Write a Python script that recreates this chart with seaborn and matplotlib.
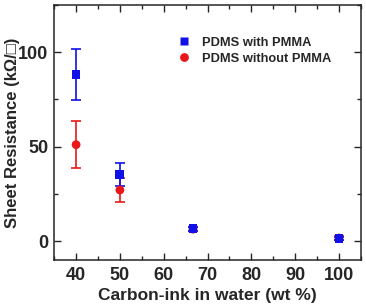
import matplotlib
matplotlib.use('Agg')
import matplotlib.pyplot as plt
import seaborn as sns
import pandas as pd
from matplotlib.ticker import MultipleLocator

# carbon-ink content (wt %) and sheet resistance (kOhm/sq)
ink_wt = [40, 50, 66.7, 100]
with_pmma = [88.0, 35.3, 6.5, 1.5]
with_pmma_err = [13.4, 6.2, 1.0, 0.8]
without_pmma = [51.0, 27.0, 6.3, 1.6]
without_pmma_err = [12.3, 6.5, 1.0, 0.8]

df = pd.DataFrame({
    'ink': ink_wt * 2,
    'R': with_pmma + without_pmma,
    'err': with_pmma_err + without_pmma_err,
    'sample': ['PDMS with PMMA'] * 4 + ['PDMS without PMMA'] * 4,
})

sns.set_style('ticks')
plt.rcParams['font.family'] = ['Liberation Sans', 'DejaVu Sans']
plt.rcParams['font.weight'] = 'bold'

fig = plt.figure(figsize=(3.66, 3.04), dpi=100)
ax = fig.add_axes([0.148, 0.145, 0.838, 0.839])

colors = {'PDMS with PMMA': '#1010e8', 'PDMS without PMMA': '#e81818'}
markers = {'PDMS with PMMA': 's', 'PDMS without PMMA': 'o'}

# error bars first, red under blue
for name in ['PDMS without PMMA', 'PDMS with PMMA']:
    sub = df[df['sample'] == name]
    ax.errorbar(sub['ink'], sub['R'], yerr=sub['err'], fmt='none',
                ecolor=colors[name], elinewidth=1.2, capsize=3.5, capthick=1.2, zorder=2)

sns.scatterplot(data=df.iloc[::-1], x='ink', y='R', hue='sample', style='sample',
                palette=colors, markers=markers, s=40, edgecolor='none',
                ax=ax, zorder=3, legend=True)

ax.set_xlim(35, 105)
ax.set_ylim(-10, 125)
ax.xaxis.set_major_locator(MultipleLocator(10))
ax.xaxis.set_minor_locator(MultipleLocator(5))
ax.yaxis.set_major_locator(MultipleLocator(50))
ax.yaxis.set_minor_locator(MultipleLocator(25))
ax.tick_params(which='both', direction='in', top=True, right=True, width=1)
ax.tick_params(which='major', length=5, labelsize=13)
ax.tick_params(axis='x', which='major', pad=5)
ax.tick_params(axis='y', which='major', pad=4)
ax.tick_params(which='minor', length=3)
for lab in ax.get_xticklabels() + ax.get_yticklabels():
    lab.set_fontweight('bold')
for sp in ax.spines.values():
    sp.set_linewidth(1.1)

ax.set_xlabel('Carbon-ink in water (wt %)', fontsize=12.5, fontweight='bold', labelpad=3)
ax.set_ylabel('Sheet Resistance (k\u03a9/\u25a1)', fontsize=12, fontweight='bold')
ax.yaxis.set_label_coords(-0.112, 0.5)

handles, labels = ax.get_legend_handles_labels()
order = [labels.index('PDMS with PMMA'), labels.index('PDMS without PMMA')]
leg = ax.legend([handles[i] for i in order], [labels[i] for i in order],
                loc='upper left', bbox_to_anchor=(0.365, 0.895), frameon=False,
                fontsize=9.3, handletextpad=0.4, labelspacing=0.3, borderaxespad=0)
for t in leg.get_texts():
    t.set_fontweight('bold')

fig.savefig('out.png', dpi=100)
